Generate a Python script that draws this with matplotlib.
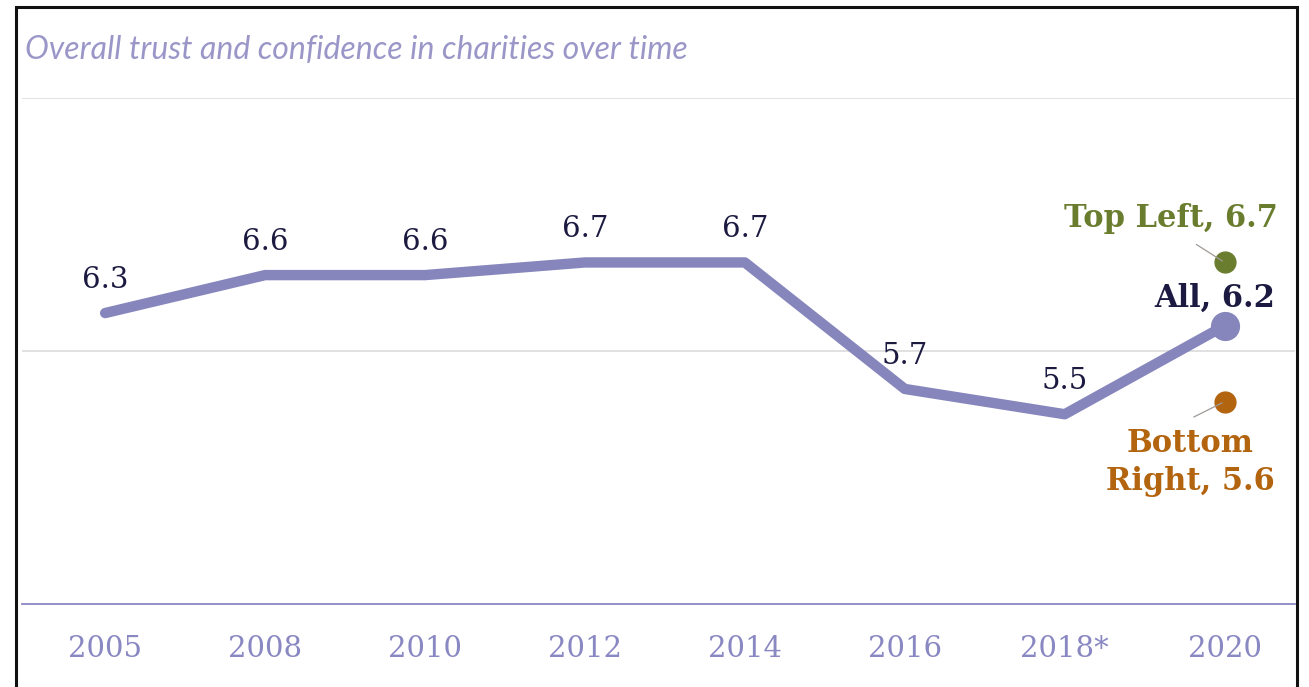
import matplotlib

matplotlib.use("Agg")

import matplotlib.pyplot as plt
from matplotlib.patches import Rectangle

years = ["2005", "2008", "2010", "2012", "2014", "2016", "2018*", "2020"]
overall = [6.3, 6.6, 6.6, 6.7, 6.7, 5.7, 5.5, 6.2]
value_labels = ["6.3", "6.6", "6.6", "6.7", "6.7", "5.7", "5.5"]

segments = ["Top Left", "Bottom Right"]
segment_values = [6.7, 5.6]

LINE = "#8686bd"
NAVY = "#1c1a40"
GREEN = "#6a7d2f"
ORANGE = "#b3640f"
TICK = "#8a88c2"
SERIF = ["DejaVu Serif"]

fig = plt.figure(figsize=(13.09, 6.87), dpi=100)
W, H = 1309, 687

# outer frame
fig.patches.append(Rectangle((16 / W, -0.02), (1297 - 16) / W, 1.02 - 7 / H,
                             transform=fig.transFigure, fill=False,
                             edgecolor="#111111", linewidth=2.2))

fig.text(25 / W, 1 - 50 / H, "Overall trust and confidence in charities over time",
         fontsize=23, style="italic", color="#9a97c8", family="Lato",
         va="center", ha="left")

ax = fig.add_axes([22 / W, 1 - 604 / H, (1295 - 22) / W, (604 - 98) / H])
x = list(range(len(years)))
ax.plot(x, overall, color=LINE, linewidth=7.5, solid_capstyle="round",
        solid_joinstyle="round", zorder=3)
ax.plot(x[-1], overall[-1], "o", color=LINE, markersize=20, zorder=4)

for xi, v, lab in zip(x, overall, value_labels):
    ax.annotate(lab, (xi, v), xytext=(0, 24), textcoords="offset points",
                ha="center", va="center", fontsize=21, color=NAVY, family=SERIF)

ax.annotate(f"All, {overall[-1]}", (x[-1], overall[-1]), xytext=(36, 20),
            textcoords="offset points", ha="right", va="center",
            fontsize=22, fontweight="bold", color=NAVY, family=SERIF)

# segment dots
ax.plot([x[-1]], [segment_values[0]], "o", color=GREEN, markersize=15, zorder=4)
ax.plot([x[-1]], [segment_values[1]], "o", color=ORANGE, markersize=15, zorder=4)

ax.annotate(f"{segments[0]}, {segment_values[0]}", (x[-1], segment_values[0]),
            xytext=(38, 32), textcoords="offset points", ha="right", va="center",
            fontsize=22, fontweight="bold", color=GREEN, family=SERIF)
ax.annotate("", (x[-1], segment_values[0]), xytext=(-22, 14),
            textcoords="offset points",
            arrowprops=dict(arrowstyle="-", color="#a09a96", lw=0.9), zorder=5)

ax.annotate("Bottom\nRight, " + str(segment_values[1]), (x[-1], segment_values[1]),
            xytext=(-25, -44), textcoords="offset points", ha="center", va="center",
            fontsize=22, fontweight="bold", color=ORANGE, family=SERIF,
            linespacing=1.3)
ax.annotate("", (x[-1], segment_values[1]), xytext=(-24, -12),
            textcoords="offset points",
            arrowprops=dict(arrowstyle="-", color="#a09a96", lw=0.9), zorder=5)

ax.set_xlim(-0.52, 7.44)
ax.set_ylim(4, 8)
ax.set_yticks([6, 8])
ax.yaxis.grid(True, color="#dcdcdc", linewidth=1.2)
ax.set_axisbelow(True)
ax.tick_params(axis="y", left=False, labelleft=False)
ax.set_xticks(x)
ax.set_xticklabels(years, fontsize=21, color=TICK, family=SERIF)
ax.tick_params(axis="x", length=0, pad=22)
for side in ["top", "left", "right"]:
    ax.spines[side].set_visible(False)
ax.spines["bottom"].set_color(TICK)
ax.spines["bottom"].set_linewidth(1.3)

fig.savefig("out.png", dpi=100)
